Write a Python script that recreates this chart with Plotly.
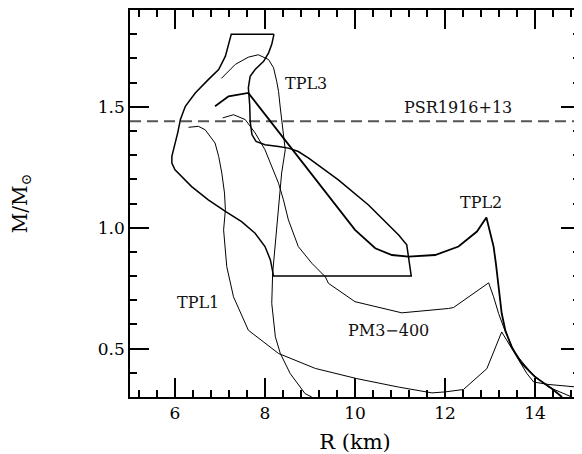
import plotly.graph_objects as go

# ---- data ----
loop_r = [8.2, 7.25, 7.12, 6.97, 6.74, 6.45, 6.23, 6.12, 6.06, 5.99, 5.93, 5.93, 6.0, 6.37,
          6.74, 7.12, 7.48, 7.78, 8.0, 8.12, 8.17, 8.19, 11.25, 11.23, 11.2, 11.15, 10.97,
          10.3, 9.63, 8.97, 8.74, 8.52, 8.3, 8.0, 7.8, 7.71, 7.67, 7.66, 7.63, 7.67, 7.78,
          7.97, 8.08, 8.15, 8.2]
loop_m = [1.8, 1.8, 1.709, 1.654, 1.612, 1.557, 1.502, 1.447, 1.392, 1.336, 1.295, 1.267,
          1.239, 1.17, 1.115, 1.067, 1.025, 0.977, 0.922, 0.867, 0.811, 0.8, 0.8, 0.825,
          0.88, 0.929, 0.97, 1.094, 1.198, 1.288, 1.315, 1.329, 1.336, 1.343, 1.357, 1.385,
          1.44, 1.509, 1.578, 1.626, 1.654, 1.688, 1.723, 1.758, 1.8]

tpl2_r = [6.89, 7.19, 7.63, 8.0, 8.52, 8.97, 9.41, 10.0, 10.45, 10.82, 11.19, 11.78, 12.3,
          12.71, 12.92, 13.08, 13.13, 13.19, 13.26, 13.34, 13.48, 13.71, 14.0, 14.37, 14.6]
tpl2_m = [1.502, 1.543, 1.557, 1.469, 1.346, 1.239, 1.133, 0.991, 0.915, 0.887, 0.88,
          0.887, 0.922, 0.984, 1.042, 0.922, 0.853, 0.756, 0.646, 0.576, 0.507, 0.438,
          0.383, 0.335, 0.3]

tpl3_r = [7.03, 7.34, 7.63, 7.85, 8.08, 8.19, 8.26, 8.3, 8.34, 8.37, 8.41, 8.45, 8.37,
          8.3, 8.23, 8.17, 8.15, 8.23, 8.34, 8.56, 8.89, 9.04]
tpl3_m = [1.617, 1.675, 1.705, 1.715, 1.695, 1.661, 1.605, 1.564, 1.495, 1.44, 1.385,
          1.322, 1.226, 1.087, 0.949, 0.811, 0.687, 0.549, 0.48, 0.397, 0.314, 0.3]

pm3_r = [7.06, 7.3, 7.56, 7.78, 8.0, 8.15, 8.3, 8.41, 8.52, 8.74, 9.04, 9.34, 9.41, 10.0,
         11.04, 12.08, 12.19, 12.97, 13.08, 13.19, 13.34, 13.56, 13.93, 14.3, 14.82]
pm3_m = [1.454, 1.467, 1.447, 1.392, 1.322, 1.253, 1.184, 1.115, 1.032, 0.922, 0.853,
         0.797, 0.77, 0.694, 0.648, 0.666, 0.67, 0.772, 0.714, 0.646, 0.57, 0.48, 0.397,
         0.341, 0.3]

tpl1_r = [6.3, 6.52, 6.67, 6.89, 6.97, 7.04, 7.1, 7.12, 7.08, 7.15, 7.3, 7.63, 8.3, 9.12,
          10.04, 10.97, 11.71, 12.0, 12.41, 12.93, 13.26, 13.37, 13.6, 13.82, 13.97,
          14.29, 15.0]
tpl1_m = [1.415, 1.419, 1.405, 1.35, 1.295, 1.226, 1.143, 1.074, 0.991, 0.839, 0.714,
          0.576, 0.48, 0.418, 0.376, 0.341, 0.317, 0.321, 0.331, 0.417, 0.569, 0.535,
          0.466, 0.397, 0.362, 0.352, 0.34]

psr_mass = 1.44
x_range = [5, 15]
y_range = [0.3, 1.9]

labels = ["TPL3", "PSR1916+13", "TPL2", "TPL1", "PM3\u2212400"]
label_x = [8.9, 12.28, 12.81, 6.5, 10.74]
label_y = [1.596, 1.496, 1.103, 0.692, 0.576]

SERIF = "DejaVu Serif"

fig = go.Figure()
fig.add_trace(go.Scatter(x=x_range, y=[psr_mass, psr_mass], mode="lines",
                         line=dict(color="#555555", width=1.8, dash="11px,6px"),
                         name="PSR1916+13"))
fig.add_trace(go.Scatter(x=loop_r, y=loop_m, mode="lines",
                         line=dict(color="black", width=1.5), name="band"))
fig.add_trace(go.Scatter(x=tpl3_r, y=tpl3_m, mode="lines",
                         line=dict(color="black", width=1), name="TPL3"))
fig.add_trace(go.Scatter(x=pm3_r, y=pm3_m, mode="lines",
                         line=dict(color="black", width=1), name="PM3-400"))
fig.add_trace(go.Scatter(x=tpl1_r, y=tpl1_m, mode="lines",
                         line=dict(color="black", width=1), name="TPL1"))
fig.add_trace(go.Scatter(x=tpl2_r, y=tpl2_m, mode="lines",
                         line=dict(color="black", width=1.8), name="TPL2"))

for t, xx, yy in zip(labels, label_x, label_y):
    fig.add_annotation(x=xx, y=yy, text=t, showarrow=False,
                       font=dict(family=SERIF, size=16, color="#111111"))

axis_common = dict(
    showgrid=False, zeroline=False, showline=True, linecolor="#000000", linewidth=1.5,
    mirror="allticks", ticks="inside", tickcolor="#000000", tickwidth=2, ticklen=19,
    tickfont=dict(family=SERIF, size=17, color="black"), automargin=False,
    layer="above traces",
)

fig.update_xaxes(range=x_range, tick0=0, dtick=2,
                 minor=dict(dtick=0.4, tick0=0, ticks="inside", ticklen=7, tickwidth=1.6,
                            tickcolor="#000000"),
                 title=dict(text="R (km)", font=dict(family=SERIF, size=21, color="black"),
                            standoff=15),
                 **axis_common)
fig.update_yaxes(range=y_range, tick0=0, dtick=0.5, tickformat=".1f",
                 minor=dict(dtick=0.1, tick0=0, ticks="inside", ticklen=7, tickwidth=1.6,
                            tickcolor="#000000"),
                 title=dict(text="M/M<sub>\u2299</sub>",
                            font=dict(family=SERIF, size=20, color="black"),
                            standoff=66),
                 **axis_common)

# the page adds an 8px body margin, so the figure is sized/placed to compensate
fig.update_layout(
    width=574, height=446,
    margin=dict(l=122, r=2, t=2, b=57),
    paper_bgcolor="white", plot_bgcolor="white",
    showlegend=False,
)

fig.write_html("out.html")
